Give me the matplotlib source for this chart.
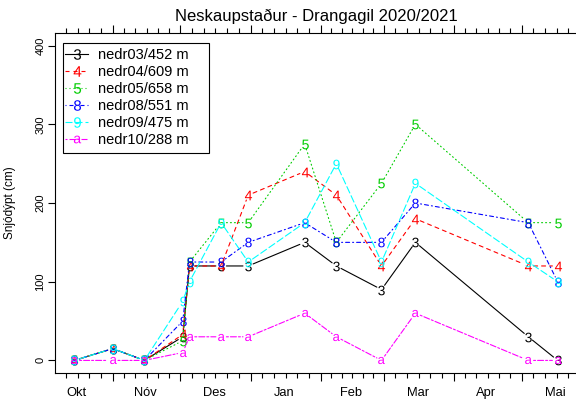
import matplotlib
matplotlib.use('Agg')
import matplotlib.pyplot as plt
import matplotlib.dates as mdates
import matplotlib.transforms as mtransforms
from matplotlib.lines import Line2D
from matplotlib.patches import Rectangle
import datetime as dt
import calendar

plt.rcParams['font.family'] = ['Liberation Sans', 'DejaVu Sans']
plt.rcParams['lines.scale_dashes'] = False
plt.rcParams['mathtext.fontset'] = 'custom'
plt.rcParams['mathtext.rm'] = 'Liberation Sans'

# ---------------- data ----------------
title = 'Neskaupstaður - Drangagil 2020/2021'
ylabel = 'Snjódýpt (cm)'
dates = ['2020-10-15', '2020-11-01', '2020-11-15', '2020-12-02', '2020-12-05',
         '2020-12-19', '2020-12-31', '2021-01-25', '2021-02-08', '2021-02-28',
         '2021-03-15', '2021-05-04', '2021-05-17']
series_names = ['nedr03/452 m', 'nedr04/609 m', 'nedr05/658 m',
                'nedr08/551 m', 'nedr09/475 m', 'nedr10/288 m']
series_symbols = ['3', '4', '5', '8', '9', 'a']
nedr03 = [0, 15, 0, 30, 120, 120, 120, 150, 120, 90, 150, 30, 0]
nedr04 = [0, 15, 0, 33, 120, 120, 210, 240, 210, 120, 180, 120, 120]
nedr05 = [0, 15, 0, 25, 125, 175, 175, 275, 150, 225, 300, 175, 175]
nedr08 = [0, 15, 0, 50, 125, 125, 150, 175, 150, 150, 200, 175, 100]
nedr09 = [0, 15, 0, 75, 100, 175, 125, 175, 250, 125, 225, 125, 100]
nedr10 = [0, 0, 0, 10, 30, 30, 30, 60, 30, 0, 60, 0, 0]
month_labels = ['Okt', 'Nóv', 'Des', 'Jan', 'Feb', 'Mar', 'Apr', 'Mai']
month_starts = [(2020, 10), (2020, 11), (2020, 12), (2021, 1), (2021, 2),
                (2021, 3), (2021, 4), (2021, 5), (2021, 6)]
yticks = [0, 100, 200, 300, 400]

series_values = [nedr03, nedr04, nedr05, nedr08, nedr09, nedr10]

# ---------------- styles ----------------
px = 0.72
colors = ['black', 'red', '#00CD00', 'blue', 'cyan', 'magenta']
styles = ['-', (0, (4 * px, 4 * px)), (0, (1 * px, 3 * px)),
          (0, (1 * px, 3 * px, 4 * px, 3 * px)), (0, (7 * px, 3 * px)),
          (0, (2 * px, 2 * px, 6 * px, 2 * px))]
lw = 0.8

W, H = 576, 405
fig = plt.figure(figsize=(W / 100, H / 100), dpi=100)
ax_l, ax_r, ax_t, ax_b = 55, 577, 33, 373
ax = fig.add_axes([ax_l / W, (H - ax_b) / H, (ax_r - ax_l) / W, (ax_b - ax_t) / H])

xn = [mdates.date2num(dt.datetime.strptime(d, '%Y-%m-%d')) for d in dates]
span = max(xn) - min(xn)

# axes ticks
month_nums = [mdates.date2num(dt.datetime(y, m, 1)) for y, m in month_starts]
minor_nums = []
label_pos = []
for (y, m), mn in zip(month_starts, month_nums):
    nd = calendar.monthrange(y, m)[1]
    for k in range(1, 6):
        minor_nums.append(mn + k * nd / 6)
    label_pos.append(mn + (nd - 1) / 2)
ax.set_xticks(month_nums)
ax.set_xticks(minor_nums, minor=True)
ax.tick_params(axis='x', which='both', bottom=True, top=True, direction='out',
               labelbottom=False, width=0.8)
ax.tick_params(axis='x', which='major', length=5.5)
ax.tick_params(axis='x', which='minor', length=3.5)

ax.set_xlim(min(xn) - 0.04 * span, max(xn) + 0.04 * span)
ax.set_ylim(-16, 416)

for vals, sym, c, ls in zip(series_values, series_symbols, colors, styles):
    for i in range(len(xn) - 1):
        ax.annotate('', xy=(xn[i + 1], vals[i + 1]), xytext=(xn[i], vals[i]),
                    xycoords='data', textcoords='data',
                    arrowprops=dict(arrowstyle='-', shrinkA=3.8, shrinkB=3.8,
                                    color=c, lw=lw, linestyle=ls))
    ms = 7.0 if sym != 'a' else 5.2
    ax.plot(xn, vals, ls='none', marker=r'$\mathrm{%s}$' % sym, ms=ms,
            mew=0, color=c)

trans = mtransforms.blended_transform_factory(ax.transData, ax.transAxes)
for lab, pos in zip(month_labels, label_pos[:len(month_labels)]):
    ax.text(pos, -20 / 340, lab, transform=trans, ha='center', va='center',
            fontsize=9.3, clip_on=False)

ax.set_yticks(yticks)
ax.set_yticklabels([str(v) for v in yticks], rotation=90, va='center')
ax.tick_params(axis='y', direction='out', length=5, width=0.8, pad=2.0,
               labelsize=8)
ax.set_ylabel(ylabel, fontsize=8.5)
ax.yaxis.set_label_coords((16 - ax_l) / (ax_r - ax_l), 0.5)
for s in ax.spines.values():
    s.set_linewidth(0.8)

fig.text((ax_l + ax_r) / 2 / W, 1 - 16 / H, title, ha='center', va='center',
         fontsize=12)

# legend
handles = []
for sym, c, ls in zip(series_symbols, colors, styles):
    ms = 7.6 if sym != 'a' else 5.6
    handles.append(Line2D([0], [0], color=c, ls=ls, lw=lw,
                          marker=r'$\mathrm{%s}$' % sym, ms=ms, mew=0))
leg = ax.legend(handles, series_names, loc='upper left',
                bbox_to_anchor=((65 - ax_l) / (ax_r - ax_l), (ax_b - 48) / (ax_b - ax_t)),
                frameon=False, fontsize=10.5, borderpad=0, borderaxespad=0,
                handlelength=1.58, handletextpad=0.69, labelspacing=0.21)

fig.canvas.draw()
bb = leg.get_window_extent()
x0 = (bb.x0 - 2) / W
x1 = (bb.x1 + 20) / W
y0 = (bb.y0 - 6) / H
y1 = (bb.y1 + 5) / H
fig.patches.append(Rectangle((x0, y0), x1 - x0, y1 - y0, transform=fig.transFigure,
                             fill=False, edgecolor='black', lw=0.8, zorder=5))

fig.savefig('out.png', dpi=100)
